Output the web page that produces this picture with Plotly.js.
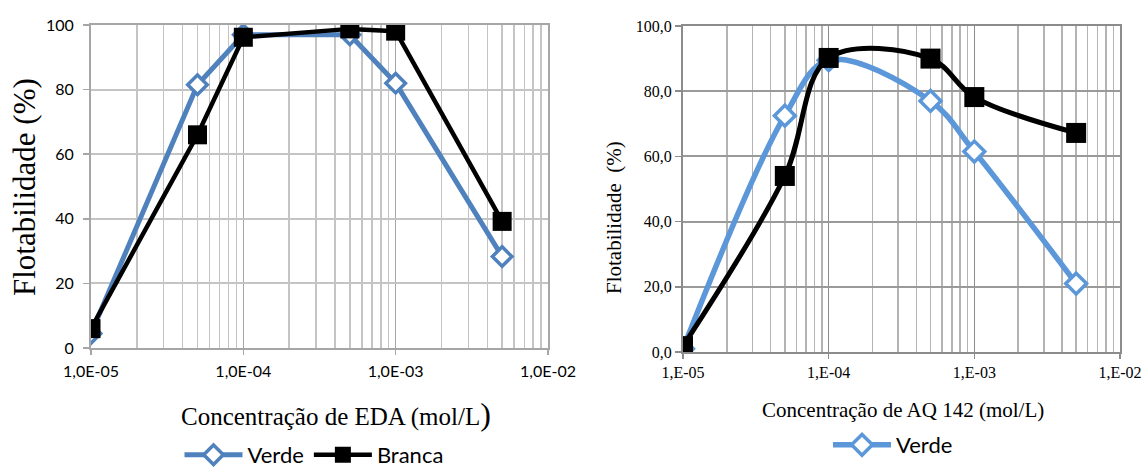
<!DOCTYPE html>
<html>
<head>
<meta charset="utf-8">
<script src="https://cdn.plot.ly/plotly-3.0.1.min.js"></script>
<style>html,body{margin:0;padding:0;background:#fff;}#chart{width:1144px;height:467px;}</style>
</head>
<body>
<div id="chart"></div>
<script>
// Concentrations (mol/L)
const concEDA = [1e-5, 5e-5, 1e-4, 5e-4, 1e-3, 5e-3];
const concAQ = [1e-5, 5e-5, 1e-4, 5e-4, 1e-3, 5e-3];
// Left chart: EDA
const edaVerde = [4.5, 81.5, 97, 97, 82, 28.3];
const edaBranca = [6, 66, 96.2, 98.8, 98.1, 39.2];
// Right chart: AQ 142
const aqVerde = [1.0, 72.5, 89.5, 77, 61.5, 21];
const aqBranca = [1.8, 54, 90.2, 90, 78.2, 67.2];
// Tick labels
const xTickVals = [1e-5, 1e-4, 1e-3, 1e-2];
const xTickLeft = ['1,0E-05', '1,0E-04', '1,0E-03', '1,0E-02'];
const xTickRight = ['1,E-05', '1,E-04', '1,E-03', '1,E-02'];
const yTickVals = [0, 20, 40, 60, 80, 100];
const yTickLeft = ['0', '20', '40', '60', '80', '100'];
const yTickRight = ['0,0', '20,0', '40,0', '60,0', '80,0', '100,0'];

const minorVals = [];
[1e-5, 1e-4, 1e-3].forEach(d => { for (let k = 2; k <= 9; k++) minorVals.push(d * k); });

const W = 1144, H = 467;
const sans = 'Lato, "Liberation Sans", sans-serif';
const serif = '"Liberation Serif", "Times New Roman", serif';

const traces = [
  {x: concEDA, y: edaVerde, name: 'Verde', xaxis: 'x', yaxis: 'y', mode: 'lines+markers',
   line: {color: '#4f81bd', width: 5},
   marker: {symbol: 'diamond', size: 15, color: '#ffffff', line: {color: '#4f81bd', width: 3.5}},
   legend: 'legend'},
  {x: concEDA, y: edaBranca, name: 'Branca', xaxis: 'x', yaxis: 'y', mode: 'lines+markers',
   line: {color: '#000000', width: 4.5},
   marker: {symbol: 'square', size: 19, color: '#000000'},
   legend: 'legend'},
  {x: concAQ, y: aqVerde, name: 'Verde', xaxis: 'x2', yaxis: 'y2', mode: 'lines+markers',
   line: {color: '#5b97d9', width: 5.5, shape: 'spline', smoothing: 1},
   marker: {symbol: 'diamond', size: 16, color: '#ffffff', line: {color: '#5b97d9', width: 3.5}},
   legend: 'legend2'},
  {x: concAQ, y: aqBranca, name: 'Branca', xaxis: 'x2', yaxis: 'y2', mode: 'lines+markers',
   line: {color: '#000000', width: 5, shape: 'spline', smoothing: 1},
   marker: {symbol: 'square', size: 20, color: '#000000'},
   showlegend: false, legend: 'legend2'}
];

function xax(domain, ticktext, font, anchor, gridc, linec, standoff) {
  return {
    type: 'log', domain: domain, range: [-5, -2], anchor: anchor,
    tickmode: 'array', tickvals: xTickVals, ticktext: ticktext,
    tickfont: font, ticks: 'outside', ticklen: 5, tickcolor: linec, tickwidth: 1.5,
    ticklabelstandoff: standoff,
    showgrid: true, gridcolor: linec, gridwidth: 1.5,
    minor: {tickmode: 'array', tickvals: minorVals, showgrid: true, gridcolor: gridc, gridwidth: 1.5, ticks: ''},
    showline: true, linecolor: linec, linewidth: 2, mirror: true, zeroline: false,
    fixedrange: true
  };
}
function yax(domain, ticktext, font, anchor, gridc, linec, standoff) {
  return {
    domain: domain, range: [0, 100], anchor: anchor,
    tickmode: 'array', tickvals: yTickVals, ticktext: ticktext,
    tickfont: font, ticks: 'outside', ticklen: 6, tickcolor: linec, tickwidth: 1.5,
    ticklabelstandoff: standoff,
    showgrid: true, gridcolor: gridc, gridwidth: 2,
    showline: true, linecolor: linec, linewidth: 2, mirror: true, zeroline: false,
    fixedrange: true
  };
}

const layout = {
  width: W, height: H,
  margin: {l: 0, r: 0, t: 0, b: 0, autoexpand: false},
  paper_bgcolor: '#ffffff', plot_bgcolor: '#ffffff',
  xaxis: xax([91 / W, 548 / W], xTickLeft, {family: sans, size: 16, color: '#000'}, 'y', '#c4c4c4', '#a6a6a6', 3),
  yaxis: yax([1 - 348 / H, 1 - 25 / H], yTickLeft, {family: sans, size: 16, color: '#000'}, 'x', '#c4c4c4', '#a6a6a6', 6),
  xaxis2: xax([683 / W, 1120 / W], xTickRight, {family: serif, size: 16, color: '#000'}, 'y2', '#b4b4b4', '#8c8c8c', 0),
  yaxis2: yax([1 - 352 / H, 1 - 26 / H], yTickRight, {family: serif, size: 16, color: '#000'}, 'x2', '#9a9a9a', '#8c8c8c', 0),
  legend: {orientation: 'h', x: 314 / W, xanchor: 'center', y: 1 - 455 / H, yanchor: 'middle',
    font: {family: sans, size: 22, color: '#000'}, itemwidth: 58, bgcolor: 'rgba(0,0,0,0)', tracegroupgap: 0},
  legend2: {orientation: 'h', x: 893 / W, xanchor: 'center', y: 1 - 445 / H, yanchor: 'middle',
    font: {family: sans, size: 22, color: '#000'}, itemwidth: 58, bgcolor: 'rgba(0,0,0,0)'},
  annotations: [
    {text: 'Flotabilidade (%)', xref: 'paper', yref: 'paper', x: 24 / W, y: 1 - 187 / H,
     textangle: -90, showarrow: false, font: {family: serif, size: 31, color: '#000'}, xanchor: 'center', yanchor: 'middle'},
    {text: 'Concentração de EDA (mol/L<span style="font-size:32px">)</span>', xref: 'paper', yref: 'paper', x: 336 / W, y: 1 - 414 / H,
     showarrow: false, font: {family: serif, size: 25, color: '#000'}, xanchor: 'center', yanchor: 'middle'},
    {text: 'Flotabilidade  (%)', xref: 'paper', yref: 'paper', x: 614 / W, y: 1 - 218 / H,
     textangle: -90, showarrow: false, font: {family: serif, size: 21, color: '#000'}, xanchor: 'center', yanchor: 'middle'},
    {text: 'Concentração de AQ 142 (mol/L)', xref: 'paper', yref: 'paper', x: 903 / W, y: 1 - 410 / H,
     showarrow: false, font: {family: serif, size: 21, color: '#000'}, xanchor: 'center', yanchor: 'middle'}
  ]
};

Plotly.newPlot('chart', traces, layout, {staticPlot: true, displayModeBar: false});
</script>
</body>
</html>
